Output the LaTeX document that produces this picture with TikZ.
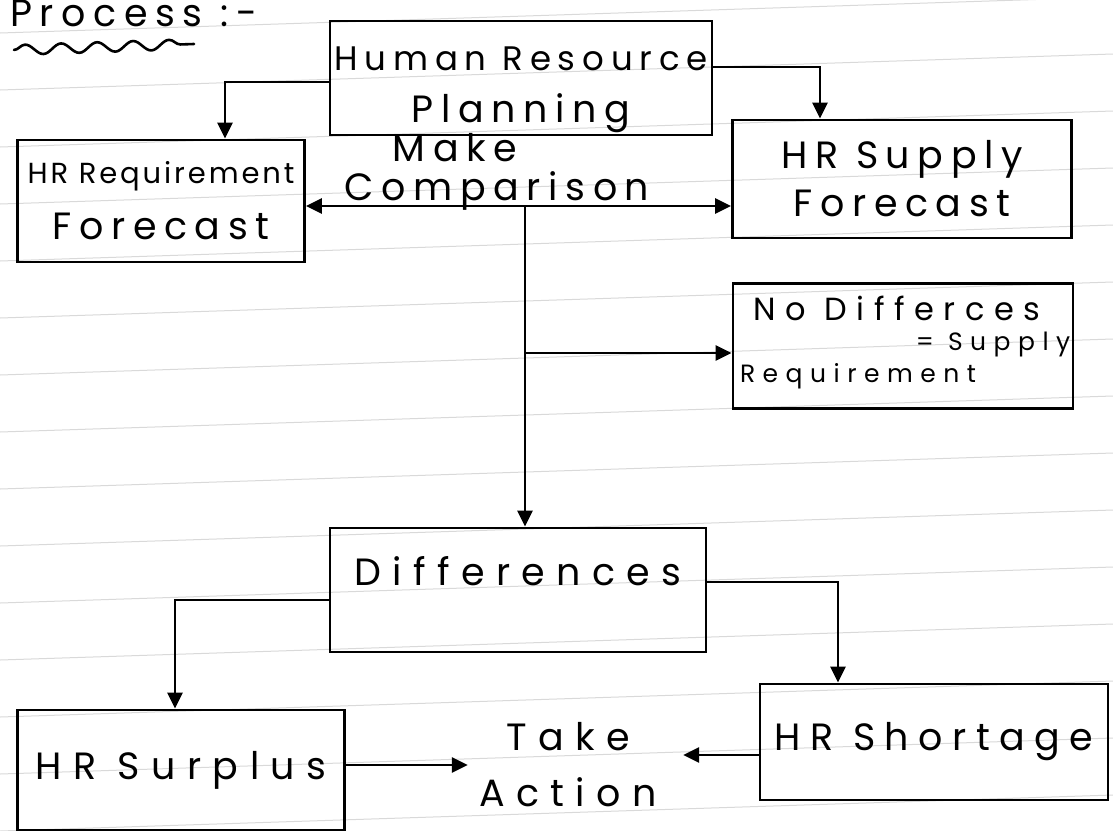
\documentclass[tikz,border=0pt]{standalone}
\usepackage{fontspec}
\setmainfont{Poppins}
\newfontfamily\hwfam{Poppins}[LetterSpace=20]
\newfontfamily\hwwfam{Poppins}[LetterSpace=30]
\newfontfamily\hwvfam{Poppins}[LetterSpace=25]
\newfontfamily\hwsfam{Poppins}[LetterSpace=10]
\usetikzlibrary{arrows.meta,decorations.pathmorphing}
\newcommand{\hw}{\hwfam\fontsize{38}{52}\selectfont}
\newcommand{\hwm}{\hwfam\fontsize{34}{52}\selectfont}
\newcommand{\hww}{\hwwfam\fontsize{38}{54}\selectfont}
\newcommand{\hwv}{\hwvfam\fontsize{38}{54}\selectfont}
\newcommand{\hwn}{\hwwfam\fontsize{32}{40}\selectfont}
\newcommand{\hwr}{\hwwfam\fontsize{25}{30}\selectfont}
\newcommand{\hws}{\hwsfam\fontsize{29}{40}\selectfont}
\tikzset{
  box/.style={draw=black, line width=2.8pt, rectangle, inner sep=2pt, align=center, font=\hw},
  lbl/.style={inner sep=2pt, align=center, font=\hw},
  conn/.style={line width=2.6pt, -{Triangle[length=16pt,width=15pt]}},
  conn2/.style={line width=2.6pt, {Triangle[length=16pt,width=15pt]}-{Triangle[length=16pt,width=15pt]}},
  ruled/.style={gray!30, line width=1pt}
}
\begin{document}
\begin{tikzpicture}[x=1pt,y=-1pt]
\useasboundingbox (0,0) rectangle (1113,830);
\fill[white] (0,0) rectangle (1113,830);
% ruled paper lines
\foreach \k in {0,...,14} {
  \draw[ruled] (0,{33+57*\k}) -- (1113,{33+57*\k-36});
}
% title
\node[lbl, anchor=base west] (title) at (8,26) {Process :-};
\draw[line width=2.6pt, line cap=round, decorate, decoration={snake, amplitude=5pt, segment length=36pt}] (14,50) -- (194,44);
% boxes
\node[box, minimum width=382pt, minimum height=114pt, inner sep=1pt, font=\hwm] (hrp) at (521,78) {\rule{0pt}{48pt}Human Resource\\{\hw Planning}};
\node[box, minimum width=287pt, minimum height=122pt, font=\hws] (hrreq) at (161,201) {HR Requirement\\[16pt]{\hw Forecast}};
\node[box, minimum width=339pt, minimum height=118pt] (supply) at (902,179) {HR Supply\\[-4pt]Forecast};
\node[box, minimum width=340pt, minimum height=125pt] (nodiff) at (903,346) {};
\node[lbl, font=\hwn] (nodifft) at (897,308) {No Differces};
\node[lbl, font=\hwr] (reqt) at (858,376) {Requirement};
\node[lbl, font=\hwr] (supt) at (993,344) {= Supply};
\node[lbl] (maket) at (455,148) {Make};
\node[lbl] (cmpt) at (497,191) {Comparison};
\node[box, minimum width=376pt, minimum height=124pt, font=\hww] (diff) at (518,590) {\raisebox{38pt}{Differences}};
\node[box, minimum width=327pt, minimum height=120pt, font=\hww] (surplus) at (181,770) {\raisebox{6pt}{HR Surplus}};
\node[box, minimum width=348pt, minimum height=116pt, font=\hwv] (shortage) at (934,742) {\raisebox{4pt}{HR Shortage}};
\node[lbl, minimum width=200pt, font=\hww] (action) at (568,765) {Take\\[2pt]Action};
% connectors
\coordinate (cmp) at (525,206);
\coordinate (br) at (525,353);
\draw[conn] ([yshift=-4pt]hrp.west) -| ([xshift=64pt]hrreq.north);
\draw[conn] ([yshift=11pt]hrp.east) -| ([xshift=-82pt]supply.north);
\draw[conn2] (hrreq.east |- cmp) -- (supply.west |- cmp);
\draw[conn] (cmp) -- (cmp |- diff.north);
\draw[conn] (br) -- (nodiff.west |- br);
\draw[conn] ([yshift=-10pt]diff.west) -| ([xshift=-6pt]surplus.north);
\draw[conn] ([yshift=8pt]diff.east) -| ([xshift=-96pt]shortage.north);
\draw[conn] (surplus.east |- action.west) -- (action.west);
\draw[conn] ([yshift=-13pt]shortage.west) -- ([xshift=15pt,yshift=-13pt]action.east |- shortage.west);
\end{tikzpicture}
\end{document}
